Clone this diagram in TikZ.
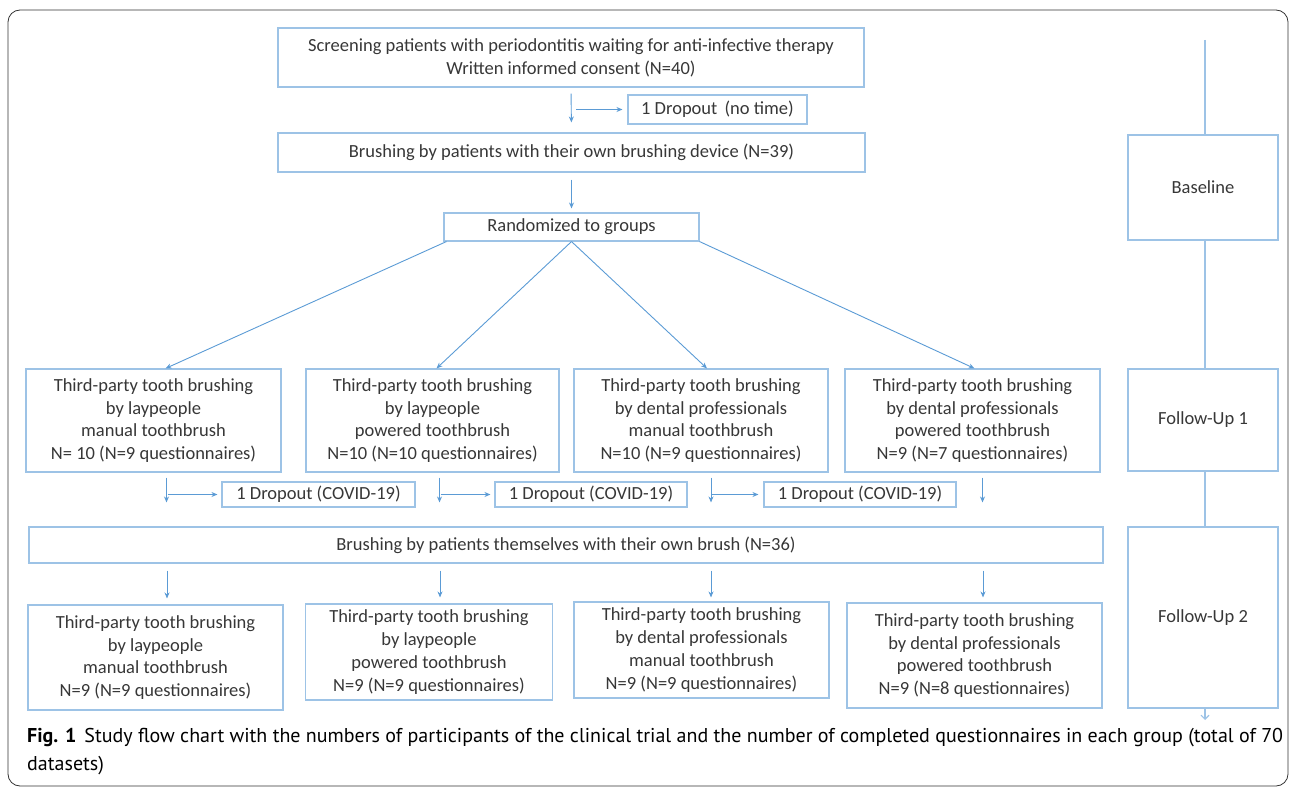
\documentclass[tikz,border=0pt]{standalone}
\usepackage{fontspec}
\setmainfont{Carlito}
\newfontfamily\capfont{PT Sans}
\usetikzlibrary{arrows.meta}
\definecolor{boxblue}{RGB}{157,195,230}
\definecolor{arrblue}{RGB}{91,155,213}
\definecolor{txtgray}{RGB}{55,55,55}
\begin{document}
\begin{tikzpicture}[x=1pt,y=-1pt,
    box/.style={draw=boxblue, line width=1.1pt, align=center, text=txtgray,
      inner sep=0pt, font=\fontsize{18.5}{22.8}\selectfont},
    arr/.style={draw=arrblue, line width=0.9pt, -{Stealth[length=6pt,width=5pt]}},
    stage/.style={draw=boxblue, line width=1.1pt}]
  \useasboundingbox (0,0) rectangle (1296,797);
  \draw[black!80, line width=0.8pt, rounded corners=12pt] (8,10) rectangle (1288,786);

  \node[box, minimum width=586pt, minimum height=59pt] (screen) at (571,57.5)
    {Screening patients with periodontitis waiting for anti-infective therapy\\Written informed consent (N=40)};
  \node[box, minimum width=179pt, minimum height=29pt] (drop0) at (717.5,109.5) {1 Dropout\,\ (no time)};
  \node[box, minimum width=587pt, minimum height=39pt] (own) at (571.5,152.5)
    {Brushing by patients with their own brushing device (N=39)};
  \node[box, minimum width=255pt, minimum height=28pt] (rand) at (571.5,227) {Randomized to groups};

  \draw[arr, shorten <=6pt, shorten >=10pt] (screen.south) -- (own.north);
  \draw[arr, shorten <=5pt, shorten >=5pt] (screen.south |- drop0.west) -- (drop0.west);
  \draw[arr, shorten <=7pt, shorten >=4pt] (own.south) -- (rand.north);

  \node[box, minimum width=255pt, minimum height=103pt] (lay1) at (153.5,420.5)
    {Third-party tooth brushing\\by laypeople\\manual toothbrush\\N= 10 (N=9 questionnaires)};
  \node[box, minimum width=253pt, minimum height=103pt] (laypow1) at (432.5,420.5)
    {Third-party tooth brushing\\by laypeople\\powered toothbrush\\N=10 (N=10 questionnaires)};
  \node[box, minimum width=254pt, minimum height=103pt] (dent1) at (701,420.5)
    {Third-party tooth brushing\\by dental professionals\\manual toothbrush\\N=10 (N=9 questionnaires)};
  \node[box, minimum width=255pt, minimum height=103pt] (dentpow1) at (972.5,420.5)
    {Third-party tooth brushing\\by dental professionals\\powered toothbrush\\N=9 (N=7 questionnaires)};

  \draw[arr] ([xshift=3pt]rand.south west) -- ([xshift=12pt]lay1.north);
  \draw[arr] (rand.south) -- ([xshift=4pt]laypow1.north);
  \draw[arr] (rand.south) -- ([xshift=6pt]dent1.north);
  \draw[arr] (rand.south east) -- ([xshift=2pt]dentpow1.north);

  \node[box, minimum width=193pt, minimum height=25pt] (dropA) at (318.5,494.5) {1 Dropout (COVID-19)};
  \node[box, minimum width=192pt, minimum height=25pt] (dropB) at (591,494.5) {1 Dropout (COVID-19)};
  \node[box, minimum width=192pt, minimum height=25pt] (dropC) at (860,494.5) {1 Dropout (COVID-19)};

  \node[box, minimum width=1074pt, minimum height=36pt] (self) at (566,545)
    {Brushing by patients themselves with their own brush (N=36)};

  \draw[arr, shorten <=5pt, shorten >=24pt] ([xshift=13pt]lay1.south) -- ([xshift=13pt]lay1.south |- self.north);
  \draw[arr, shorten <=5pt, shorten >=24pt] ([xshift=7pt]laypow1.south) -- ([xshift=7pt]laypow1.south |- self.north);
  \draw[arr, shorten <=5pt, shorten >=24pt] ([xshift=10pt]dent1.south) -- ([xshift=10pt]dent1.south |- self.north);
  \draw[arr, shorten <=5pt, shorten >=24pt] ([xshift=10pt]dentpow1.south) -- ([xshift=10pt]dentpow1.south |- self.north);
  \draw[arr, shorten <=1pt, shorten >=4pt] ([xshift=13pt]lay1.south |- dropA.west) -- (dropA.west);
  \draw[arr, shorten <=1pt, shorten >=4pt] ([xshift=7pt]laypow1.south |- dropB.west) -- (dropB.west);
  \draw[arr, shorten <=1pt, shorten >=5pt] ([xshift=10pt]dent1.south |- dropC.west) -- (dropC.west);

  \node[box, minimum width=255pt, minimum height=105pt] (lay2) at (155.5,657.5)
    {Third-party tooth brushing\\by laypeople\\manual toothbrush\\N=9 (N=9 questionnaires)};
  \node[box, minimum width=247pt, minimum height=96pt] (laypow2) at (429,652)
    {Third-party tooth brushing\\by laypeople\\powered toothbrush\\N=9 (N=9 questionnaires)};
  \node[box, minimum width=255pt, minimum height=96pt] (dent2) at (701.5,650)
    {Third-party tooth brushing\\by dental professionals\\manual toothbrush\\N=9 (N=9 questionnaires)};
  \node[box, minimum width=255pt, minimum height=105pt] (dentpow2) at (974.5,655.5)
    {Third-party tooth brushing\\by dental professionals\\powered toothbrush\\N=9 (N=8 questionnaires)};

  \draw[arr, shorten <=7pt, shorten >=6pt] ([xshift=11.5pt]lay2.north |- self.south) -- ([xshift=11.5pt]lay2.north);
  \draw[arr, shorten <=7pt, shorten >=6pt] ([xshift=11pt]laypow2.north |- self.south) -- ([xshift=11pt]laypow2.north);
  \draw[arr, shorten <=7pt, shorten >=4pt] ([xshift=9.5pt]dent2.north |- self.south) -- ([xshift=9.5pt]dent2.north);
  \draw[arr, shorten <=7pt, shorten >=5pt] ([xshift=8.5pt]dentpow2.north |- self.south) -- ([xshift=8.5pt]dentpow2.north);

  \node[box, minimum width=150pt, minimum height=105pt] (base) at (1203,187.5) {Baseline};
  \node[box, minimum width=150pt, minimum height=102pt] (fu1) at (1203,420) {Follow-Up 1};
  \node[box, minimum width=150pt, minimum height=181pt] (fu2) at (1203,617.5) {Follow-Up 2};
  \coordinate (top) at (1205,40);
  \coordinate (end) at (1205,720);
  \draw[stage] (top) -- (top |- base.north);
  \draw[stage] (top |- base.south) -- (top |- fu1.north);
  \draw[stage] (top |- fu1.south) -- (top |- fu2.north);
  \draw[stage, -{Straight Barb[length=4pt,width=8pt]}] (top |- fu2.south) -- (end);

  \node[anchor=west, inner sep=0pt, font=\capfont\fontsize{20}{24}\selectfont] (cap1) at (27,738)
    {\textbf{Fig. 1}\hspace{8pt}Study flow chart with the numbers of participants of the clinical trial and the number of completed questionnaires in each group (total of 70};
  \node[anchor=west, inner sep=0pt, font=\capfont\fontsize{20}{24}\selectfont] (cap2) at (27,766) {datasets)};
\end{tikzpicture}
\end{document}
